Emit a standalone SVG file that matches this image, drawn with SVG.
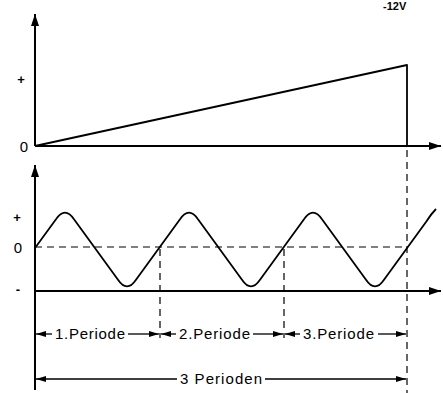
<svg xmlns="http://www.w3.org/2000/svg" width="443" height="393" viewBox="0 0 443 393">
<defs>
<marker id="ah" viewBox="0 0 10 6" refX="10" refY="3" markerWidth="10" markerHeight="6" markerUnits="userSpaceOnUse" orient="auto-start-reverse">
<path d="M0,0 L10,3 L0,6 Z" fill="#000"/>
</marker>
<marker id="ax" viewBox="0 0 12 8" refX="12" refY="4" markerWidth="12" markerHeight="8" markerUnits="userSpaceOnUse" orient="auto">
<path d="M0,0 L12,4 L0,8 Z" fill="#000"/>
</marker>
</defs>
<style>
.ax{stroke:#000;stroke-width:2;fill:none}
.cv{stroke:#000;stroke-width:1.8;fill:none;stroke-linejoin:round}
.da{stroke:#000;stroke-width:1.2;fill:none;stroke-dasharray:7,5}
.dim{stroke:#000;stroke-width:1.3;fill:none}
text{font-family:"Liberation Sans",Arial,sans-serif;fill:#000}
.lb{font-size:15px}
.sg{font-size:13px;font-weight:bold}
.pl{font-size:15px}
</style>
<rect width="443" height="393" fill="#fff"/>
<text x="383" y="10" font-size="11" font-weight="bold">-12V</text>
<g id="top-graph">
<line class="ax" x1="35" y1="146" x2="35" y2="14" marker-end="url(#ax)"/>
<line class="ax" x1="35" y1="146" x2="441" y2="146" marker-end="url(#ax)"/>
<path class="cv" d="M35,146 L407,65 L407,146"/>
<text class="sg" x="21" y="84" text-anchor="middle">+</text>
<text class="lb" x="24" y="152" text-anchor="middle">0</text>
</g>
<g id="bottom-graph">
<line class="ax" x1="35" y1="390" x2="35" y2="165" marker-end="url(#ax)"/>
<line class="ax" x1="35" y1="291" x2="441" y2="291" marker-end="url(#ax)"/>
<line class="da" x1="35" y1="247" x2="407" y2="247"/>
<path class="cv" d="M35,248 L56,219.3 Q65,206 74,219.3 L118,279.7 Q127,293 136,279.7 L180,219.3 Q189,206 198,219.3 L242,279.7 Q251,293 260,279.7 L304,219.3 Q313,206 322,219.3 L366,279.7 Q375,293 384,279.7 L426,222 Q431,214 436,209"/>
<text class="sg" x="17" y="222" text-anchor="middle">+</text>
<text class="lb" x="18" y="253" text-anchor="middle">0</text>
<text class="sg" x="18" y="294" text-anchor="middle">-</text>
</g>
<g id="connectors">
<line class="da" x1="407" y1="150" x2="407" y2="393"/>
<line class="da" x1="160" y1="249" x2="160" y2="338"/>
<line class="da" x1="284" y1="249" x2="284" y2="338"/>
<line class="dim" x1="52" y1="334" x2="36" y2="334" marker-end="url(#ah)"/>
<line class="dim" x1="128" y1="334" x2="159" y2="334" marker-end="url(#ah)"/>
<line class="dim" x1="176" y1="334" x2="161" y2="334" marker-end="url(#ah)"/>
<line class="dim" x1="253" y1="334" x2="283" y2="334" marker-end="url(#ah)"/>
<line class="dim" x1="300" y1="334" x2="285" y2="334" marker-end="url(#ah)"/>
<line class="dim" x1="378" y1="334" x2="406" y2="334" marker-end="url(#ah)"/>
<line class="dim" x1="177" y1="379" x2="36" y2="379" marker-end="url(#ah)"/>
<line class="dim" x1="265" y1="379" x2="406" y2="379" marker-end="url(#ah)"/>
</g>
<g id="labels">
<text class="pl" x="55" y="339" textLength="70" lengthAdjust="spacing">1.Periode</text>
<text class="pl" x="179" y="339" textLength="71" lengthAdjust="spacing">2.Periode</text>
<text class="pl" x="303" y="339" textLength="71" lengthAdjust="spacing">3.Periode</text>
<text class="pl" x="180" y="384" textLength="82" lengthAdjust="spacing">3 Perioden</text>
</g>
</svg>
